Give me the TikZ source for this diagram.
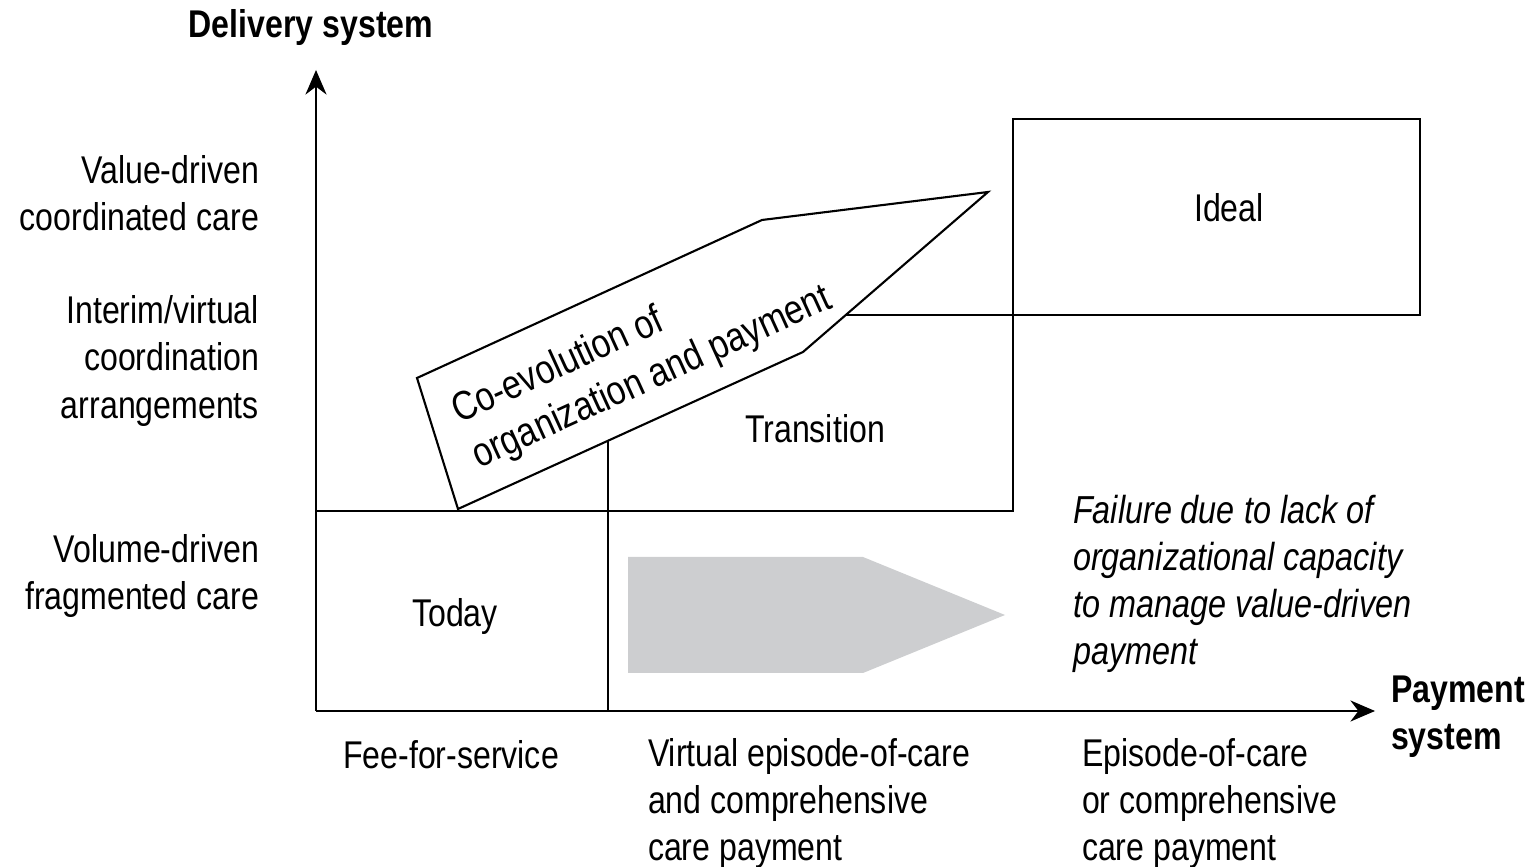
\documentclass[tikz,border=0pt]{standalone}
\usepackage{fontspec}
\setmainfont{Liberation Sans}[FakeStretch=0.83]
\usetikzlibrary{arrows.meta,positioning}
\definecolor{arrowgray}{HTML}{CDCED0}
\begin{document}
\begin{tikzpicture}[line width=0.6pt, font=\fontsize{11}{13.4}\selectfont]
\tikzstyle{axis} = [-{Stealth[length=7pt,width=6pt]}]
\tikzstyle{level} = [align=right, anchor=east, inner sep=0pt]
\tikzstyle{paylabel} = [align=left, anchor=north west, inner sep=0pt]
\tikzstyle{axistitle} = [font=\fontsize{11}{13.4}\selectfont\bfseries, inner sep=0pt]
\useasboundingbox (0,0) rectangle (15.3,8.66);
% axes
\coordinate (O) at (3.16,1.55);
\coordinate (ytop) at (3.16,7.96);
\coordinate (xend) at (13.75,1.55);
\draw [axis] (O) -- (ytop);
\draw [axis] (O) -- (xend);
\node (delivery) [axistitle] at (3.11,8.38) {Delivery system};
\node (payment) [axistitle, align=left, anchor=west] at (13.9,1.49) {Payment\\system};
% levels of the delivery system
\node (value) [level] at (2.60,6.73) {Value-driven\\coordinated care};
\node (interim) [level] at (2.60,5.05) {Interim/virtual\\coordination\\arrangements};
\node (volume) [level] at (2.60,2.90) {Volume-driven\\fragmented care};
% kinds of payment
\node (ffs) [inner sep=0pt] at (4.51,1.11) {Fee-for-service};
\node (virtual) [paylabel] at (6.47,1.29) {Virtual episode-of-care\\and comprehensive\\care payment};
\node (episode) [paylabel] at (10.81,1.29) {Episode-of-care\\or comprehensive\\care payment};
% regions
\draw (3.16,3.55) -- (10.13,3.55) -- (10.13,7.47);
\draw (6.08,1.55) -- (6.08,4.25);
\draw (8.46,5.51) -- (10.13,5.51);
\draw (10.13,5.51) rectangle (14.20,7.47);
\node (today) at (4.55,2.49) {Today};
\node (transition) at (8.15,4.37) {Transition};
\node (ideal) at (12.29,6.58) {Ideal};
% co-evolution path
\draw [fill=white] (4.58,3.57) -- (4.17,4.88) -- (7.62,6.46) -- (9.88,6.74) -- (8.03,5.14) -- cycle;
\node (coevo) [rotate=24.5, align=left, font=\fontsize{11.6}{14}\selectfont] at (6.42,5.10) {Co-evolution of\\organization and payment};
% failed shortcut
\fill [arrowgray] (6.28,3.09) -- (8.63,3.09) -- (10.05,2.51) -- (8.63,1.93) -- (6.28,1.93) -- cycle;
\node (failure) [align=left, anchor=west, inner sep=0pt, font=\fontsize{11.1}{13.4}\selectfont\itshape] at (10.72,2.82) {Failure due to lack of\\organizational capacity\\to manage value-driven\\payment};
\end{tikzpicture}
\end{document}
